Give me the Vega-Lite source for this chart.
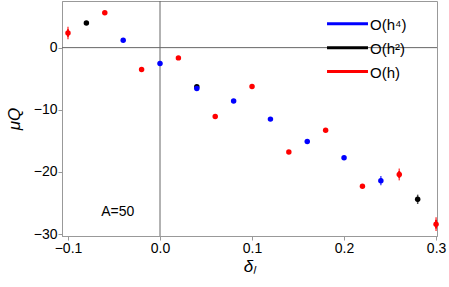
{
  "$schema": "https://vega.github.io/schema/vega-lite/v6.json",
  "width": 375,
  "height": 235,
  "autosize": {"type": "none"},
  "padding": {"left": 62, "top": 1, "right": 12, "bottom": 51},
  "config": {
    "font": "Liberation Sans",
    "view": {"stroke": "#999999", "strokeWidth": 1},
    "axis": {"grid": false, "domainColor": "#999999", "tickColor": "#999999", "labelColor": "#000000", "labelFontSize": 14, "titleFontSize": 17, "titleFontWeight": "normal", "titleColor": "#000000", "tickSize": 4, "labelPadding": 1, "labelFlush": false, "labelOverlap": false, "titleFontStyle": "italic"},
    "axisX": {"titlePadding": 3},
    "axisY": {"titlePadding": 10}
  },
  "datasets": {
    "pts": [
      {"x": -0.08, "y": 3.95, "s": "O(h²)"},
      {"x": 0.04, "y": -6.3, "s": "O(h²)"},
      {"x": 0.28, "y": -24.4, "s": "O(h²)"},
      {"x": -0.1, "y": 2.35, "s": "O(h)"},
      {"x": -0.06, "y": 5.6, "s": "O(h)"},
      {"x": -0.02, "y": -3.5, "s": "O(h)"},
      {"x": 0.02, "y": -1.65, "s": "O(h)"},
      {"x": 0.06, "y": -11.06, "s": "O(h)"},
      {"x": 0.1, "y": -6.25, "s": "O(h)"},
      {"x": 0.14, "y": -16.8, "s": "O(h)"},
      {"x": 0.18, "y": -13.3, "s": "O(h)"},
      {"x": 0.22, "y": -22.3, "s": "O(h)"},
      {"x": 0.26, "y": -20.4, "s": "O(h)"},
      {"x": 0.3, "y": -28.4, "s": "O(h)"},
      {"x": -0.04, "y": 1.17, "s": "O(h⁴)"},
      {"x": 0.0, "y": -2.56, "s": "O(h⁴)"},
      {"x": 0.04, "y": -6.57, "s": "O(h⁴)"},
      {"x": 0.08, "y": -8.6, "s": "O(h⁴)"},
      {"x": 0.12, "y": -11.5, "s": "O(h⁴)"},
      {"x": 0.16, "y": -15.1, "s": "O(h⁴)"},
      {"x": 0.2, "y": -17.7, "s": "O(h⁴)"},
      {"x": 0.24, "y": -21.4, "s": "O(h⁴)"}
    ],
    "err": [
      {"x": -0.1, "lo": 1.75, "hi": 2.95, "s": "O(h)"},
      {"x": 0.26, "lo": -20.95, "hi": -19.85, "s": "O(h)"},
      {"x": 0.3, "lo": -29.1, "hi": -27.7, "s": "O(h)"},
      {"x": 0.28, "lo": -24.75, "hi": -24.05, "s": "O(h²)"},
      {"x": 0.24, "lo": -21.75, "hi": -21.05, "s": "O(h⁴)"}
    ],
    "key": [
      {"x": 0.1815, "x2": 0.226, "y": 3.85, "s": "O(h⁴)"},
      {"x": 0.1815, "x2": 0.226, "y": 0.0, "s": "O(h²)"},
      {"x": 0.1815, "x2": 0.226, "y": -3.85, "s": "O(h)"}
    ]
  },
  "layer": [
    {
      "data": {"values": [{"x": 0}]},
      "mark": {"type": "rule", "color": "#666666", "strokeWidth": 1},
      "encoding": {
        "x": {"field": "x", "type": "quantitative",
          "scale": {"domain": [-0.1065, 0.301], "nice": false, "zero": false},
          "axis": {"title": "δₗ", "values": [-0.1, 0, 0.1, 0.2, 0.3], "format": ".1f", "labelOverlap": false}
        }
      }
    },
    {
      "data": {"values": [{"y": 0}]},
      "mark": {"type": "rule", "color": "#666666", "strokeWidth": 1},
      "encoding": {
        "y": {"field": "y", "type": "quantitative",
          "scale": {"domain": [-30.3, 7.5], "nice": false, "zero": false},
          "axis": {"title": "μQ", "values": [-30, -25, -20, -15, -10, -5, 0, 5], "format": "d", "labelOverlap": false}
        }
      }
    },
    {
      "data": {"name": "key"},
      "mark": {"type": "rule", "strokeWidth": 3},
      "encoding": {
        "x": {"field": "x", "type": "quantitative"},
        "x2": {"field": "x2"},
        "y": {"field": "y", "type": "quantitative"},
        "color": {"field": "s", "type": "nominal", "legend": null}
      }
    },
    {
      "data": {"name": "key"},
      "mark": {"type": "text", "align": "left", "baseline": "middle", "dx": 2, "dy": 1, "fontSize": 15, "color": "#000000"},
      "encoding": {
        "x": {"field": "x2", "type": "quantitative"},
        "y": {"field": "y", "type": "quantitative"},
        "text": {"field": "s"}
      }
    },
    {
      "data": {"name": "err"},
      "mark": {"type": "rule", "strokeWidth": 2},
      "encoding": {
        "x": {"field": "x", "type": "quantitative"},
        "y": {"field": "lo", "type": "quantitative"},
        "y2": {"field": "hi"},
        "color": {"field": "s", "type": "nominal", "legend": null}
      }
    },
    {
      "data": {"name": "err"},
      "mark": {"type": "tick", "thickness": 1.5, "size": 5},
      "encoding": {
        "x": {"field": "x", "type": "quantitative"},
        "y": {"field": "lo", "type": "quantitative"},
        "color": {"field": "s", "type": "nominal", "legend": null}
      }
    },
    {
      "data": {"name": "err"},
      "mark": {"type": "tick", "thickness": 1.5, "size": 5},
      "encoding": {
        "x": {"field": "x", "type": "quantitative"},
        "y": {"field": "hi", "type": "quantitative"},
        "color": {"field": "s", "type": "nominal", "legend": null}
      }
    },
    {
      "data": {"name": "pts"},
      "mark": {"type": "point", "filled": true, "opacity": 1, "size": 30},
      "encoding": {
        "x": {"field": "x", "type": "quantitative"},
        "y": {"field": "y", "type": "quantitative"},
        "color": {"field": "s", "type": "nominal",
          "scale": {"domain": ["O(h⁴)", "O(h²)", "O(h)"], "range": ["#0000ff", "#000000", "#ff0000"]},
          "legend": null
        }
      }
    },
    {
      "data": {"values": [{"x": -0.046, "y": -26.5, "t": "A=50"}]},
      "mark": {"type": "text", "fontSize": 14, "color": "#000000"},
      "encoding": {
        "x": {"field": "x", "type": "quantitative"},
        "y": {"field": "y", "type": "quantitative"},
        "text": {"field": "t"}
      }
    }
  ]
}
